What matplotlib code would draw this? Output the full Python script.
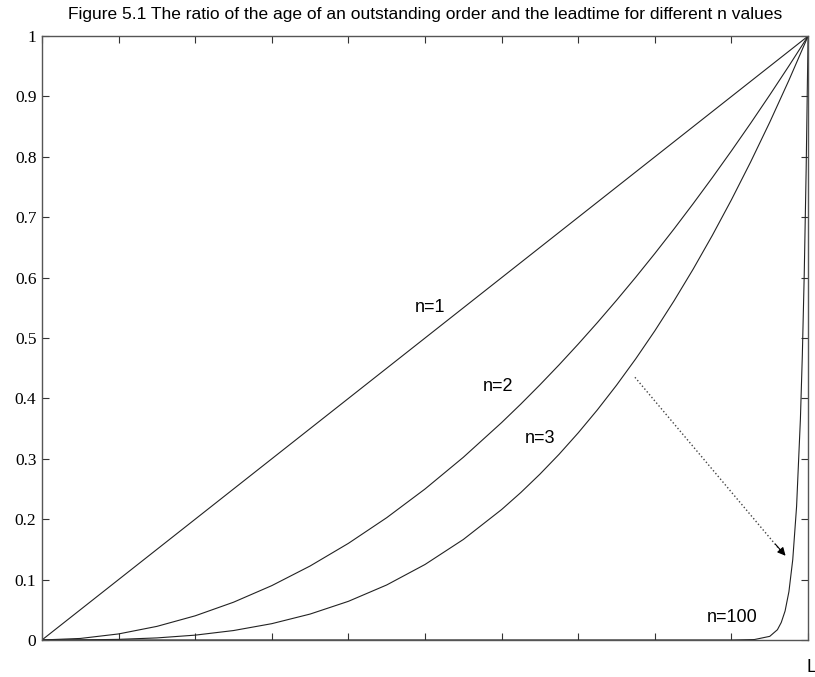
import matplotlib
matplotlib.use("Agg")
import matplotlib.pyplot as plt

# ratio of order age to leadtime
x_ratio = [0.0, 0.05, 0.10, 0.15, 0.20, 0.25, 0.30, 0.35, 0.40, 0.45, 0.50,
           0.55, 0.60, 0.625, 0.65, 0.675, 0.70, 0.725, 0.75, 0.775, 0.80,
           0.825, 0.85, 0.875, 0.90, 0.925, 0.95, 0.975, 1.0]
y_n1 = [0.0, 0.05, 0.10, 0.15, 0.20, 0.25, 0.30, 0.35, 0.40, 0.45, 0.50,
        0.55, 0.60, 0.625, 0.65, 0.675, 0.70, 0.725, 0.75, 0.775, 0.80,
        0.825, 0.85, 0.875, 0.90, 0.925, 0.95, 0.975, 1.0]
y_n2 = [0.0, 0.0025, 0.010, 0.0225, 0.040, 0.0625, 0.090, 0.1225, 0.160, 0.2025, 0.250,
        0.3025, 0.360, 0.3906, 0.4225, 0.4556, 0.490, 0.5256, 0.5625, 0.6006, 0.640,
        0.6806, 0.7225, 0.7656, 0.810, 0.8556, 0.9025, 0.9506, 1.0]
y_n3 = [0.0, 0.0001, 0.001, 0.0034, 0.008, 0.0156, 0.027, 0.0429, 0.064, 0.0911, 0.125,
        0.1664, 0.216, 0.2441, 0.2746, 0.3075, 0.343, 0.3811, 0.4219, 0.4655, 0.512,
        0.5615, 0.6141, 0.6699, 0.729, 0.7915, 0.8574, 0.9269, 1.0]

x_n100 = [0.0, 0.90, 0.93, 0.95, 0.96, 0.965, 0.97, 0.975, 0.98, 0.985, 0.99,
          0.9925, 0.995, 0.9975, 1.0]
y_n100 = [0.0, 0.00003, 0.0007, 0.006, 0.017, 0.029, 0.048, 0.080, 0.133, 0.221, 0.366,
          0.471, 0.606, 0.779, 1.0]

curve_labels = ["n=1", "n=2", "n=3", "n=100"]
y_ticks = [0, 0.1, 0.2, 0.3, 0.4, 0.5, 0.6, 0.7, 0.8, 0.9, 1]
y_tick_labels = ["0", "0.1", "0.2", "0.3", "0.4", "0.5", "0.6", "0.7", "0.8", "0.9", "1"]

fig = plt.figure(figsize=(8.15, 6.77), dpi=100)
ax = fig.add_axes([0.0515, 0.0547, 0.94, 0.892])

line_kw = dict(color="#222222", linewidth=0.8)
ax.plot(x_ratio, y_n1, **line_kw)
ax.plot(x_ratio, y_n2, **line_kw)
ax.plot(x_ratio, y_n3, **line_kw)
ax.plot(x_n100, y_n100, **line_kw)

ax.set_xlim(0, 1)
ax.set_ylim(0, 1)
ax.set_xticks([i / 10 for i in range(11)])
ax.set_xticklabels([])
ax.set_yticks(y_ticks)
ax.set_yticklabels(y_tick_labels, family="Liberation Serif", fontsize=12.5)
ax.tick_params(direction="in", length=5, width=0.8, color="#333333",
               top=True, right=True, pad=4)
for s in ax.spines.values():
    s.set_color("#555555")
    s.set_linewidth(1.0)

# curve labels
lab_kw = dict(family="Liberation Sans", fontsize=13, ha="center", va="center")
ax.text(0.507, 0.55, curve_labels[0], **lab_kw)
ax.text(0.595, 0.42, curve_labels[1], **lab_kw)
ax.text(0.650, 0.333, curve_labels[2], **lab_kw)
ax.text(0.901, 0.038, curve_labels[3], **lab_kw)

# dotted arrow pointing at the n=100 curve
ax.plot([0.774, 0.968], [0.435, 0.142], linestyle=":", color="#444444", linewidth=1.0)
ax.annotate("", xy=(0.973, 0.136), xytext=(0.955, 0.162),
            arrowprops=dict(arrowstyle="-|>", color="black", lw=0.8,
                            mutation_scale=12))

ax.text(1.004, -0.046, "L", transform=ax.transAxes, family="Liberation Sans",
        fontsize=13, ha="center", va="center")

fig.text(0.5215, 0.978, "Figure 5.1 The ratio of the age of an outstanding order and the leadtime for different n values",
         family="Liberation Sans", fontsize=12.5, ha="center", va="center")

fig.savefig("out.png", dpi=100)
